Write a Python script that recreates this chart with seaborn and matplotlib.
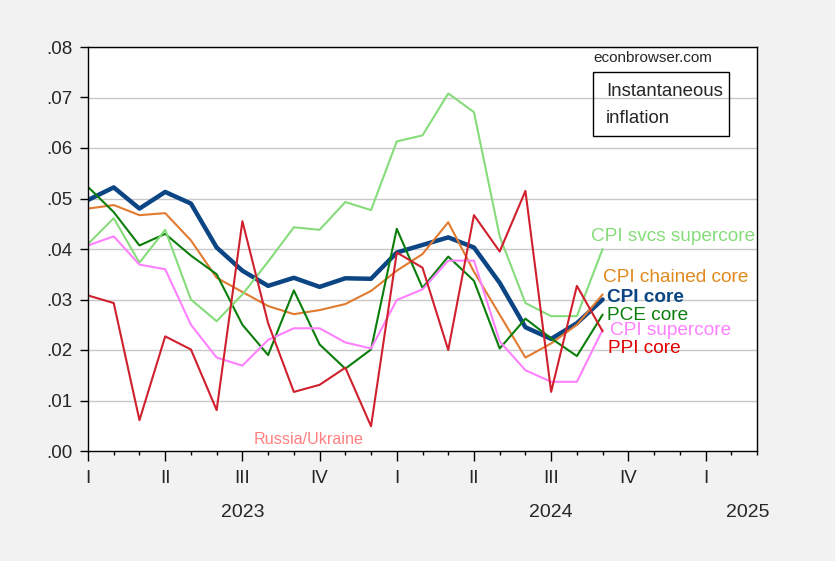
import numpy as np
import pandas as pd
import matplotlib
matplotlib.use('Agg')
import matplotlib.pyplot as plt
import matplotlib.transforms as mtransforms
from matplotlib.patches import Rectangle
from matplotlib.ticker import FixedLocator, FuncFormatter
import seaborn as sns

# ─── DATA (monthly, Jan 2023 = 0) ─────────────────────────────────────────────
months = list(range(21))

cpi_core = [.0497, .0522, .0480, .0513, .0490, .0403, .0357, .0327, .0343, .0325, .0342,
            .0341, .0393, .0408, .0423, .0403, .0333, .0245, .0222, .0253, .0300]
cpi_chained_core = [.0480, .0487, .0467, .0471, .0417, .0343, .0315, .0287, .0271, .0279, .0291,
                    .0317, .0357, .0390, .0453, .0355, .0270, .0185, .0213, .0250, .0310]
pce_core = [.0523, .0473, .0407, .0430, .0387, .0350, .0250, .0190, .0318, .0211, .0163,
            .0201, .0440, .0323, .0385, .0337, .0203, .0262, .0223, .0188, .0270]
cpi_svcs_supercore = [.0410, .0461, .0373, .0438, .0300, .0257, .0310, .0375, .0443, .0438, .0493,
                      .0477, .0613, .0625, .0708, .0671, .0425, .0293, .0267, .0267, .0400]
cpi_supercore = [.0407, .0425, .0369, .0360, .0250, .0185, .0169, .0220, .0243, .0243, .0215,
                 .0203, .0299, .0320, .0377, .0377, .0217, .0160, .0137, .0137, .0240]
ppi_core = [.0308, .0293, .0061, .0227, .0201, .0081, .0455, .0253, .0117, .0131, .0165,
            .0049, .0393, .0363, .0200, .0467, .0395, .0515, .0117, .0327, .0237]

quarter_labels = ['I', 'II', 'III', 'IV', 'I', 'II', 'III', 'IV', 'I']
years = ['2023', '2024', '2025']

# ─── STYLE ────────────────────────────────────────────────────────────────────
sns.set_theme(style='white')
plt.rcParams['font.family'] = ['Liberation Sans', 'DejaVu Sans']

# (name, values, line colour, label colour, width, label pos)
SERIES = [
    ('CPI core', cpi_core, '#0b4584', '#0b4584', 3.2, (20.17, .0303)),
    ('CPI chained core', cpi_chained_core, '#e07b30', '#e08a1e', 1.5, (20.0, .0343)),
    ('PCE core', pce_core, '#0a7d0a', '#0a7d0a', 1.5, (20.17, .0269)),
    ('CPI svcs supercore', cpi_svcs_supercore, '#86dc7a', '#86dc7a', 1.5, (19.55, .0424)),
    ('CPI supercore', cpi_supercore, '#ff80ff', '#ff80ff', 1.5, (20.29, .0238)),
    ('PPI core', ppi_core, '#d0202e', '#e00000', 1.5, (20.2, .0202)),
]

fig = plt.figure(figsize=(8.35, 5.61), dpi=100, facecolor='#f2f2f2')
ax = fig.add_axes([88 / 835, 1 - 451 / 561, 669 / 835, 404 / 561])
ax.set_facecolor('white')

for name, vals, col, lcol, lw, (lx, ly) in SERIES:
    sns.lineplot(x=months, y=vals, color=col, lw=lw, ax=ax, legend=False)
    ax.text(lx, ly, name, color=lcol, fontsize=13.7, va='center', ha='left',
            fontweight='bold' if name == 'CPI core' else 'normal', zorder=5)

# ─── AXES ─────────────────────────────────────────────────────────────────────
ax.set_xlim(0, 26)
ax.set_ylim(0, .08)
ax.set_xlabel('')
ax.set_ylabel('')

ax.yaxis.set_major_locator(FixedLocator(np.arange(0, .081, .01)))
ax.yaxis.set_major_formatter(FuncFormatter(lambda v, p: f'{v:.2f}'.lstrip('0')))
for v in np.arange(.01, .08, .01):
    ax.axhline(v, color='#c8c8c8', lw=1, zorder=0)

ax.xaxis.set_major_locator(FixedLocator(list(range(0, 25, 3))))
ax.xaxis.set_minor_locator(FixedLocator(list(range(0, 27))))
ax.set_xticklabels(quarter_labels)

ax.tick_params(axis='y', which='major', direction='out', length=6, width=1,
               color='black', labelsize=13.5, pad=5, left=True)
ax.tick_params(axis='x', which='major', direction='out', length=7.5, width=1,
               color='black', labelsize=13.5, pad=6.5, bottom=True)
ax.tick_params(axis='x', which='minor', direction='out', length=3, width=1,
               color='black', bottom=True)

for s in ax.spines.values():
    s.set_visible(True)
    s.set_color('black')
    s.set_linewidth(1.0)

trans = mtransforms.blended_transform_factory(ax.transData, ax.transAxes)
for yr, xpos in zip(years, [6, 18, 25.65]):
    ax.text(xpos, -0.152, yr, transform=trans, ha='center', va='center', fontsize=14)

# ─── ANNOTATIONS ──────────────────────────────────────────────────────────────
ax.text(6.45, .0022, 'Russia/Ukraine', color='#ff8080', fontsize=11.6, va='center', ha='left')
ax.text(0.756, 0.973, 'econbrowser.com', transform=ax.transAxes, fontsize=11,
        va='center', ha='left')
ax.add_patch(Rectangle((0.755, 0.780), 0.203, 0.158, transform=ax.transAxes,
                       fill=False, edgecolor='black', lw=1, zorder=6))
ax.text(0.774, 0.889, 'Instantaneous', transform=ax.transAxes, fontsize=13.4,
        va='center', ha='left')
ax.text(0.774, 0.824, 'inflation', transform=ax.transAxes, fontsize=13.4,
        va='center', ha='left')

fig.savefig('out.png', dpi=100, facecolor=fig.get_facecolor())
